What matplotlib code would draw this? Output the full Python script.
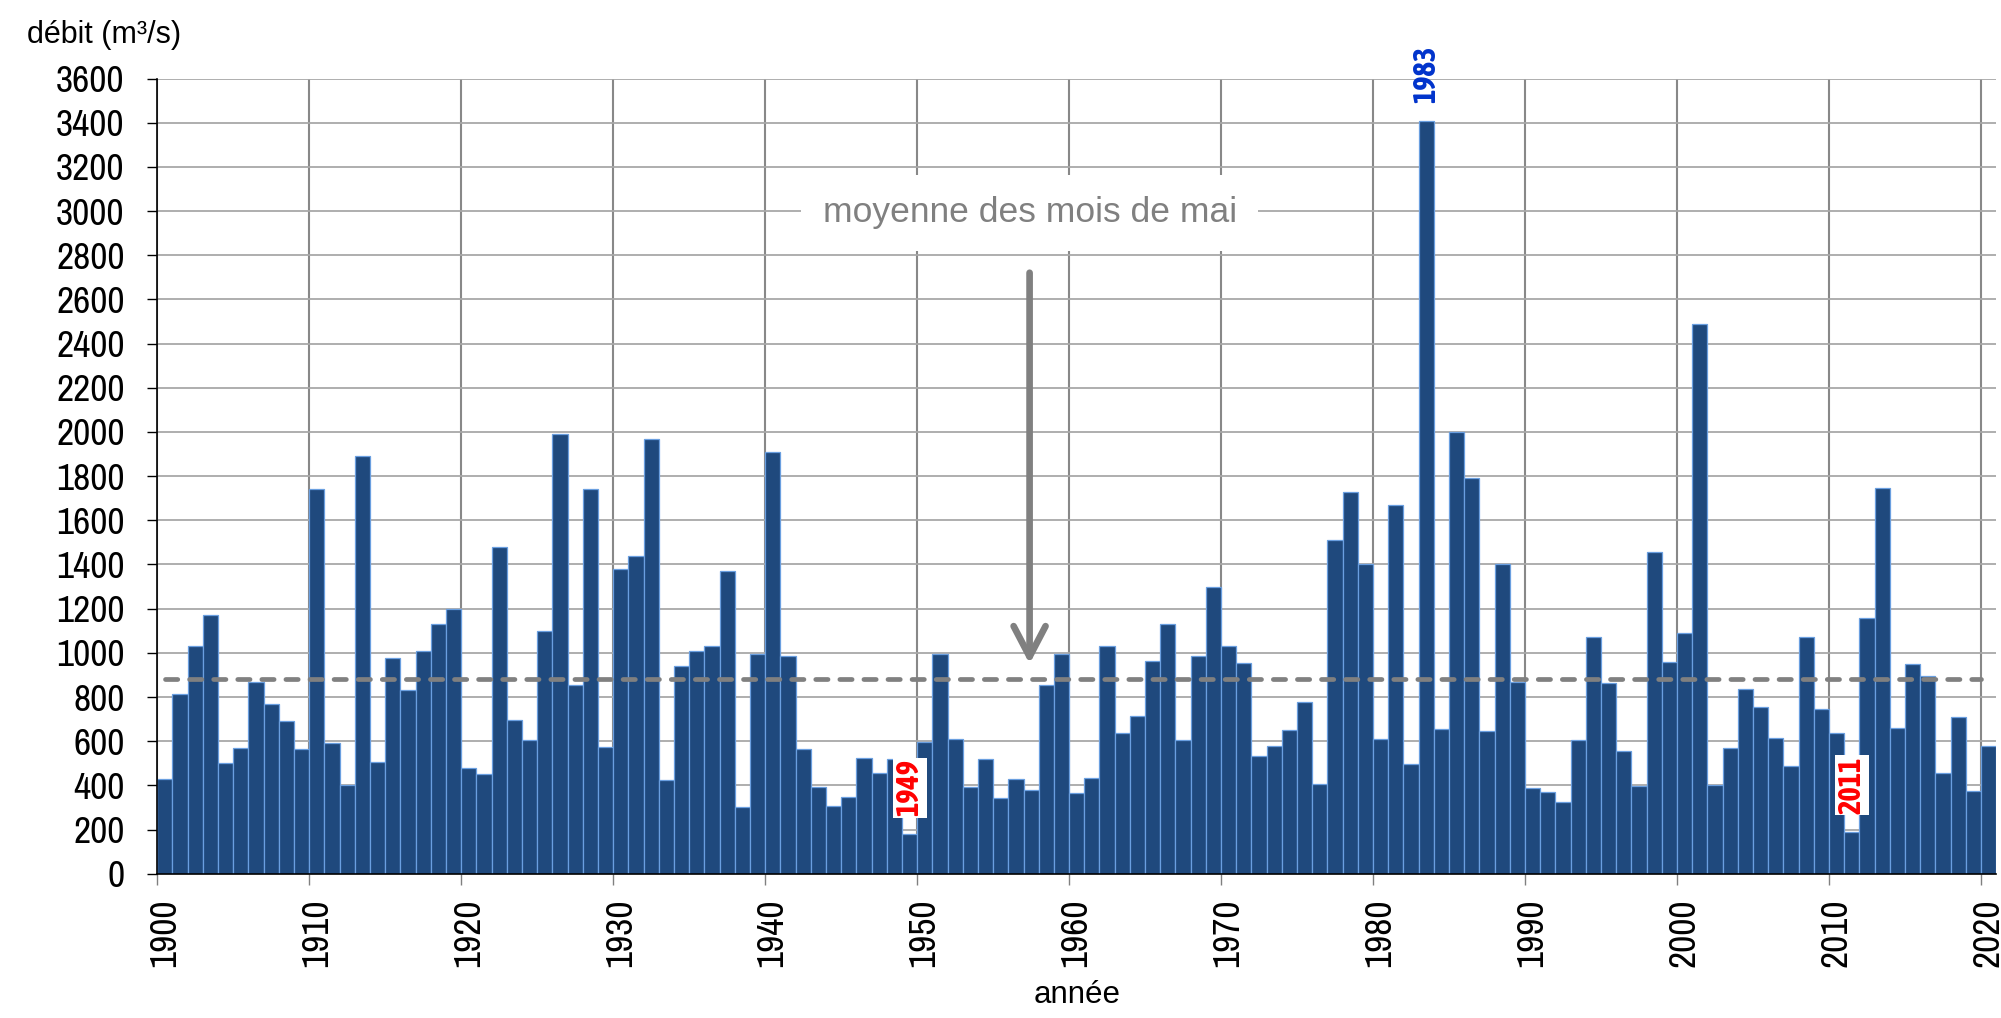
"""
Débit moyen du mois de mai, 1900-2020 (barres annuelles + moyenne).
"""
import matplotlib
matplotlib.use("Agg")
import matplotlib.pyplot as plt
import matplotlib.transforms as mtrans
import numpy as np

REGULAR = ["Liberation Sans", "DejaVu Sans"]
NARROW = ["Liberation Sans Narrow", "Arial Narrow", "Archivo Narrow", "Liberation Sans"]
NARROW_BOLD = ["Liberation Sans Narrow", "Arial Narrow", "Asap Condensed", "Liberation Sans"]
plt.rcParams["font.family"] = NARROW

# -- data ----------------------------------------------------------------------
years = np.arange(1900, 2021)
debit = [
    430, 815, 1030, 1170, 500, 570, 870, 768, 690, 563,          # 1900-1909
    1740, 593, 400, 1890, 507, 975, 833, 1010, 1130, 1200,       # 1910-1919
    477, 451, 1478, 694, 605, 1100, 1990, 853, 1740, 572,        # 1920-1929
    1380, 1440, 1970, 426, 939, 1010, 1031, 1369, 303, 995,      # 1930-1939
    1911, 984, 563, 391, 305, 349, 522, 454, 519, 178,           # 1940-1949
    598, 995, 608, 391, 519, 343, 427, 377, 853, 995,            # 1950-1959
    367, 433, 1031, 638, 714, 964, 1129, 605, 984, 1300,         # 1960-1969
    1031, 954, 533, 580, 652, 777, 404, 1511, 1728, 1400,        # 1970-1979
    611, 1669, 495, 3410, 655, 1998, 1792, 646, 1400, 869,       # 1980-1989
    388, 368, 323, 604, 1070, 862, 557, 397, 1458, 957,          # 1990-1999
    1088, 2490, 400, 567, 835, 753, 616, 487, 1073, 744,         # 2000-2009
    635, 190, 1159, 1748, 658, 951, 894, 454, 711, 373,          # 2010-2019
    577,                                                         # 2020
]
moyenne = 880
mean_label = "moyenne des mois de mai"

marked_years = [1949, 1983, 2011]
marked_colors = ["#FF0000", "#0033CC", "#FF0000"]

y_ticks = np.arange(0, 3601, 200)
x_ticks = np.arange(1900, 2021, 10)

# -- figure --------------------------------------------------------------------
fig = plt.figure(figsize=(20.01, 10.18), dpi=100)
ax = fig.add_axes([157.3 / 2001, 1 - 873.7 / 1018,
                   (1996.1 - 157.3) / 2001, (873.7 - 78.6) / 1018])

ax.bar(years, debit, width=1.0, align="edge", color="#1F497D",
       edgecolor="#6A9FE0", linewidth=0.9, zorder=2)

ax.set_xlim(years[0], years[-1] + 1)
ax.set_ylim(0, 3600)

ax.set_yticks(y_ticks)
ax.set_xticks(x_ticks)
ax.set_xticklabels([str(t) for t in x_ticks], rotation=90)
ax.tick_params(axis="y", length=7.5, width=1, color="black",
               labelsize=27, pad=16)
ax.tick_params(axis="x", length=8, width=1, color="#808080",
               labelsize=27, pad=10)
shift = mtrans.ScaledTranslation(0.07, 0, fig.dpi_scale_trans)
for lab in ax.get_xticklabels():
    lab.set_transform(lab.get_transform() + shift)

ax.yaxis.grid(True, color="#A8A8A8", linewidth=1.3, zorder=0)
ax.xaxis.grid(True, color="#888888", linewidth=1.5, zorder=0)
ax.set_axisbelow(True)

for side in ["top", "right"]:
    ax.spines[side].set_visible(False)
for side in ["left", "bottom"]:
    ax.spines[side].set_color("black")
    ax.spines[side].set_linewidth(1.2)
    ax.spines[side].set_zorder(3)

# mean line
ax.hlines(moyenne, years[0] + 0.5, years[-1], colors="#808080",
          linewidth=3.4, linestyles=(0, (2.6, 2.5)), capstyle="round", zorder=4)

# annotation with arrow
arrow_x = 1957.4
ax.text(arrow_x, 2992, mean_label, ha="center", va="center", fontsize=25.5,
        family=REGULAR, color="#808080", zorder=5,
        bbox=dict(boxstyle="square,pad=0.6", facecolor="white", edgecolor="none"))
ax.annotate("", xy=(arrow_x, 950), xytext=(arrow_x, 2721),
            arrowprops=dict(arrowstyle="->,head_length=22,head_width=11.5",
                            mutation_scale=1, color="#808080", lw=4.8,
                            capstyle="round", joinstyle="round",
                            shrinkA=0, shrinkB=0),
            zorder=5)

# year labels on remarkable bars
for yr, col in zip(marked_years, marked_colors):
    val = debit[yr - years[0]]
    bb = None
    if col == "#FF0000":
        bb = dict(boxstyle="square,pad=0.05", facecolor="white", edgecolor="none")
    ax.annotate(str(yr), (yr + 0.5, val), textcoords="offset points",
                xytext=(0, 13), rotation=90, ha="center", va="bottom",
                fontsize=22, fontweight="bold", family=NARROW_BOLD,
                color=col, bbox=bb, zorder=6)

fig.text(27 / 2001, 1 - 43.3 / 1018, "débit (m³/s)", fontsize=22,
         family=REGULAR, ha="left", va="baseline")
fig.text(1076.7 / 2001, 1 - 995 / 1018, "année", fontsize=22.5,
         family=REGULAR, ha="center", va="center")

fig.savefig("out.png", dpi=100, facecolor="white")
plt.close(fig)
